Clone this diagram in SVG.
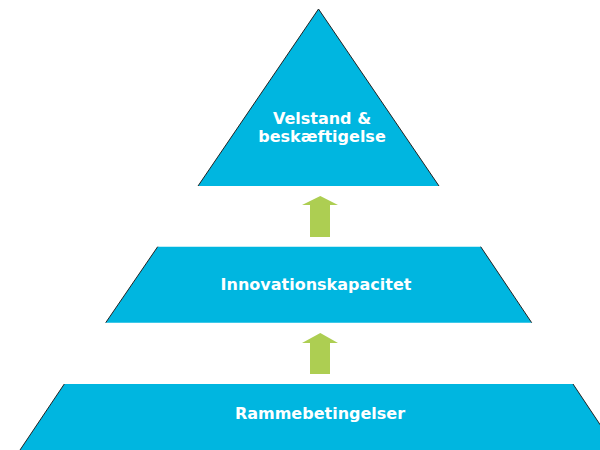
<svg xmlns="http://www.w3.org/2000/svg" width="600" height="450" viewBox="0 0 600 450">
<style>
.lvl{fill:#00B6E0;}
.edge{fill:none;stroke:#222;stroke-width:1;}
.arr{fill:#ADCE52;}
.lbl{font-family:"DejaVu Sans",Verdana,sans-serif;font-weight:bold;font-size:16px;fill:#fff;text-anchor:middle;}
</style>
<rect width="600" height="450" fill="#fff"/>
<g id="top">
<polygon class="lvl" points="318.5,9 198,186 439,186"/>
<polyline class="edge" points="198,186 318.5,9 439,186"/>
<text class="lbl" x="322" y="124">Velstand &amp;</text>
<text class="lbl" x="322" y="142">beskæftigelse</text>
</g>
<g id="middle">
<polygon class="lvl" points="157.7,246.7 480.7,246.7 531.7,322.7 105.7,322.7"/>
<line class="edge" x1="157.7" y1="246.7" x2="105.7" y2="322.7"/>
<line class="edge" x1="480.7" y1="246.7" x2="531.7" y2="322.7"/>
<text class="lbl" x="316" y="290">Innovationskapacitet</text>
</g>
<g id="bottom">
<polygon class="lvl" points="64.3,384 573,384 617,450 20,450"/>
<line class="edge" x1="64.3" y1="384" x2="20" y2="450"/>
<line class="edge" x1="573" y1="384" x2="617" y2="450"/>
<text class="lbl" x="320" y="419">Rammebetingelser</text>
</g>
<g id="connectors">
<polygon class="arr" points="320.3,196 338,205 330,205 330,237 310,237 310,205 302,205"/>
<polygon class="arr" points="320.3,333 338,343 330,343 330,374 310,374 310,343 302,343"/>
</g>
</svg>
